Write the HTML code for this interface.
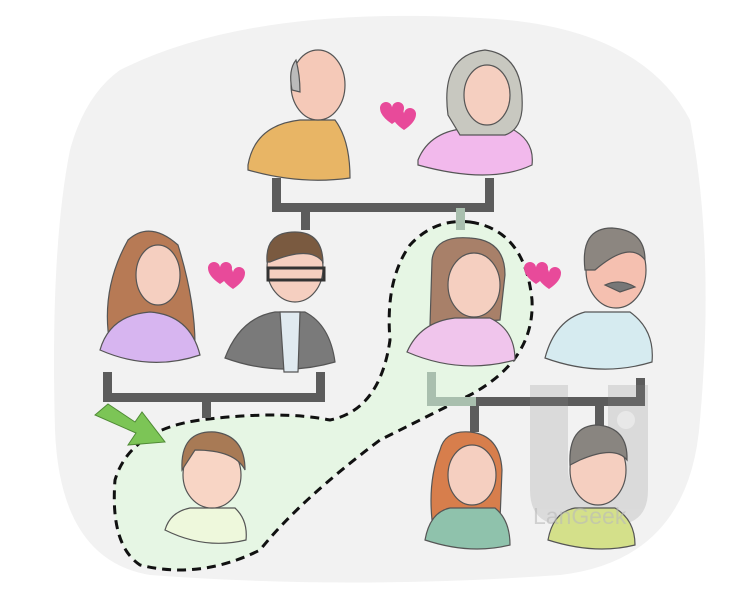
<!DOCTYPE html>
<html><head><meta charset="utf-8"><style>html,body{margin:0;padding:0;background:#fff}svg{display:block}</style></head>
<body>
<svg width="750" height="600" viewBox="0 0 750 600" xmlns="http://www.w3.org/2000/svg">
<path d="M120 70 Q250 5 480 18 Q640 25 690 120 Q715 250 700 420 Q690 560 560 575 Q350 590 150 575 Q60 560 55 430 Q50 250 70 150 Q85 95 120 70Z" fill="#f2f2f2"/>
<path d="M470 222 Q525 230 532 300 Q535 360 470 395 Q420 420 380 440 Q300 500 260 550 Q200 580 140 565 Q110 545 115 480 Q130 430 200 420 Q280 410 330 420 Q380 410 390 340 Q385 280 410 245 Q435 218 470 222Z" fill="#e6f6e4" stroke="#111" stroke-width="3" stroke-dasharray="9 6"/>
<g fill="#5c5c5c">
<rect x="272" y="178" width="9" height="34"/><rect x="272" y="203" width="222" height="9"/><rect x="485" y="178" width="9" height="34"/>
<rect x="301" y="208" width="9" height="22"/>
<rect x="103" y="372" width="9" height="30"/><rect x="103" y="393" width="222" height="9"/><rect x="316" y="372" width="9" height="30"/><rect x="202" y="398" width="9" height="20"/>
<rect x="470" y="397" width="175" height="9"/><rect x="636" y="378" width="9" height="28"/><rect x="470" y="400" width="9" height="32"/><rect x="595" y="400" width="9" height="32"/>
</g>
<rect x="456" y="208" width="9" height="22" fill="#a9bfae"/>
<path d="M427 372 h9 v25 h40 v9 h-49z" fill="#a9bfae"/>
<g opacity="0.22" fill="#8a8a8a"><path d="M530 385 h38 v85 q0 15 15 15 h10 q15 0 15 -15 v-85 h40 v105 q0 35 -35 35 h-48 q-35 0 -35 -35z"/><rect x="610" y="385" width="38" height="60" rx="8"/></g>
<circle cx="626" cy="420" r="9" fill="#f2f2f2" opacity="0.6"/>
<g stroke="#555" stroke-width="1.2">
<path d="M248 165 Q255 125 300 120 L335 120 Q350 140 350 178 Q300 185 248 170Z" fill="#e8b565"/>
<ellipse cx="318" cy="85" rx="27" ry="35" fill="#f5c9b8"/><path d="M292 90 Q288 70 296 60 Q300 75 300 92Z" fill="#bbb"/>
<path d="M418 160 Q430 130 470 128 L510 128 Q535 140 532 165 Q490 185 418 165Z" fill="#f2b9ec"/>
<path d="M448 115 Q440 55 485 50 Q525 55 522 110 Q520 130 505 135 L460 135Z" fill="#c8c8c0"/>
<ellipse cx="487" cy="95" rx="23" ry="30" fill="#f5cfc0"/>
<path d="M128 240 Q150 220 178 245 Q195 300 195 345 L110 345 Q100 290 128 240Z" fill="#b77a55"/>
<path d="M100 350 Q110 315 150 312 Q190 315 200 355 Q150 372 100 350Z" fill="#d7b5f0"/>
<ellipse cx="158" cy="275" rx="22" ry="30" fill="#f5cfc0"/>
<path d="M225 358 Q240 318 275 312 L305 312 Q330 325 335 362 Q280 378 225 358Z" fill="#7a7a7a"/><path d="M280 312 L300 312 L298 372 L284 372Z" fill="#e0eaf0"/>
<ellipse cx="295" cy="268" rx="28" ry="34" fill="#f5cfc0"/><path d="M267 262 Q265 232 295 232 Q322 232 323 262 Q310 245 270 262Z" fill="#7a5a40"/>
<rect x="268" y="268" width="56" height="12" fill="none" stroke="#333" stroke-width="3"/>
<path d="M432 260 Q435 235 470 238 Q505 240 505 275 L500 320 L430 325Z" fill="#a88069"/>
<path d="M407 352 Q420 322 455 318 L490 318 Q515 330 515 360 Q460 375 407 352Z" fill="#f0c5ec"/>
<ellipse cx="474" cy="285" rx="26" ry="32" fill="#f5cfc0"/>
<path d="M545 358 Q555 320 585 312 L630 312 Q655 330 652 362 Q600 378 545 358Z" fill="#d6ebf0"/>
<ellipse cx="616" cy="270" rx="30" ry="38" fill="#f5c0b0"/><path d="M585 270 Q580 228 612 228 Q645 230 645 260 Q630 240 595 270Z" fill="#8c8680"/>
<path d="M605 285 Q620 278 635 287 L620 292Z" fill="#777"/>
<path d="M165 530 Q170 512 190 508 L235 508 Q248 520 246 540 Q205 550 165 530Z" fill="#eef8dc"/>
<ellipse cx="212" cy="475" rx="29" ry="33" fill="#f8d5c5"/><path d="M182 470 Q180 430 215 432 Q245 436 245 470 Q235 450 195 450Z" fill="#a87a55"/>
<path d="M440 450 Q445 430 470 432 Q500 435 502 470 L500 520 L432 520 Q428 480 440 450Z" fill="#d77e4c"/>
<path d="M425 540 Q430 512 450 508 L495 508 Q510 520 510 545 Q470 555 425 540Z" fill="#8fc2ac"/>
<ellipse cx="472" cy="475" rx="24" ry="30" fill="#f5cfc0"/>
<path d="M548 540 Q553 512 575 508 L615 508 Q635 520 635 545 Q595 555 548 540Z" fill="#d4e08a"/>
<ellipse cx="598" cy="470" rx="28" ry="35" fill="#f5cfc0"/><path d="M570 465 Q568 425 598 425 Q628 428 627 460 Q615 445 580 460Z" fill="#898580"/>
</g>
<text x="533" y="524" font-family="Liberation Sans, sans-serif" font-size="23" fill="#bbbbbb" opacity="0.6">LanGeek</text>
<g fill="#e84a9a">
<path d="M380 108 a6 6 0 0 1 12 0 a6 6 0 0 1 12 0 q0 8 -12 16 q-12 -8 -12 -16z"/><path d="M392 114 a6 6 0 0 1 12 0 a6 6 0 0 1 12 0 q0 8 -12 16 q-12 -8 -12 -16z"/>
<path d="M208 268 a6 6 0 0 1 12 0 a6 6 0 0 1 12 0 q0 8 -12 16 q-12 -8 -12 -16z"/><path d="M221 273 a6 6 0 0 1 12 0 a6 6 0 0 1 12 0 q0 8 -12 16 q-12 -8 -12 -16z"/>
<path d="M524 268 a6 6 0 0 1 12 0 a6 6 0 0 1 12 0 q0 8 -12 16 q-12 -8 -12 -16z"/><path d="M537 273 a6 6 0 0 1 12 0 a6 6 0 0 1 12 0 q0 8 -12 16 q-12 -8 -12 -16z"/>
</g>
<path d="M95 415 L108 404 L135 422 L142 412 L165 442 L128 445 L136 433Z" fill="#7cc556" stroke="#4f8a35" stroke-width="1"/>
</svg>
</body></html>
